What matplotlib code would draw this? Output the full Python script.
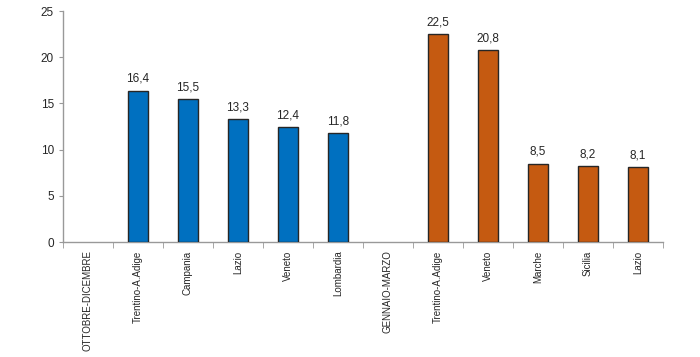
import matplotlib.pyplot as plt
import numpy as np

categorie = ['OTTOBRE-DICEMBRE', 'Trentino-A.Adige', 'Campania', 'Lazio', 'Veneto', 'Lombardia',
             'GENNAIO-MARZO', 'Trentino-A.Adige', 'Veneto', 'Marche', 'Sicilia', 'Lazio']
valori = [None, 16.4, 15.5, 13.3, 12.4, 11.8, None, 22.5, 20.8, 8.5, 8.2, 8.1]
colori = [None, '#0070C0', '#0070C0', '#0070C0', '#0070C0', '#0070C0',
          None, '#C55A11', '#C55A11', '#C55A11', '#C55A11', '#C55A11']

plt.rcParams['font.family'] = ['Liberation Sans', 'DejaVu Sans']

fig = plt.figure(figsize=(7, 3.57), dpi=100)
ax = fig.add_axes([0.09, 0.322, 0.857, 0.647])

x = np.arange(len(categorie))
for i, v in enumerate(valori):
    if v is None:
        continue
    ax.bar(x[i], v, width=0.4, color=colori[i], edgecolor='#262626', linewidth=1.0, zorder=3)
    ax.text(x[i], v + 0.6, f'{v:.1f}'.replace('.', ','), ha='center', va='bottom',
            fontsize=8.5, color='#262626')

ax.set_xlim(-0.5, len(categorie) - 0.5)
ax.set_ylim(0, 25)
ax.set_yticks([0, 5, 10, 15, 20, 25])
ax.tick_params(axis='y', labelsize=8.5, length=3, color='#999999', labelcolor='#262626')

ax.set_xticks(x)
ax.set_xticklabels(categorie, rotation=90, fontsize=7, color='#262626')
ax.tick_params(axis='x', length=0, pad=6)
ax.set_xticks(np.arange(-0.5, len(categorie), 1), minor=True)
ax.tick_params(axis='x', which='minor', length=4, color='#999999')

for s in ['top', 'right']:
    ax.spines[s].set_visible(False)
for s in ['left', 'bottom']:
    ax.spines[s].set_color('#999999')
    ax.spines[s].set_linewidth(1.0)

plt.savefig('out.png', dpi=100)
